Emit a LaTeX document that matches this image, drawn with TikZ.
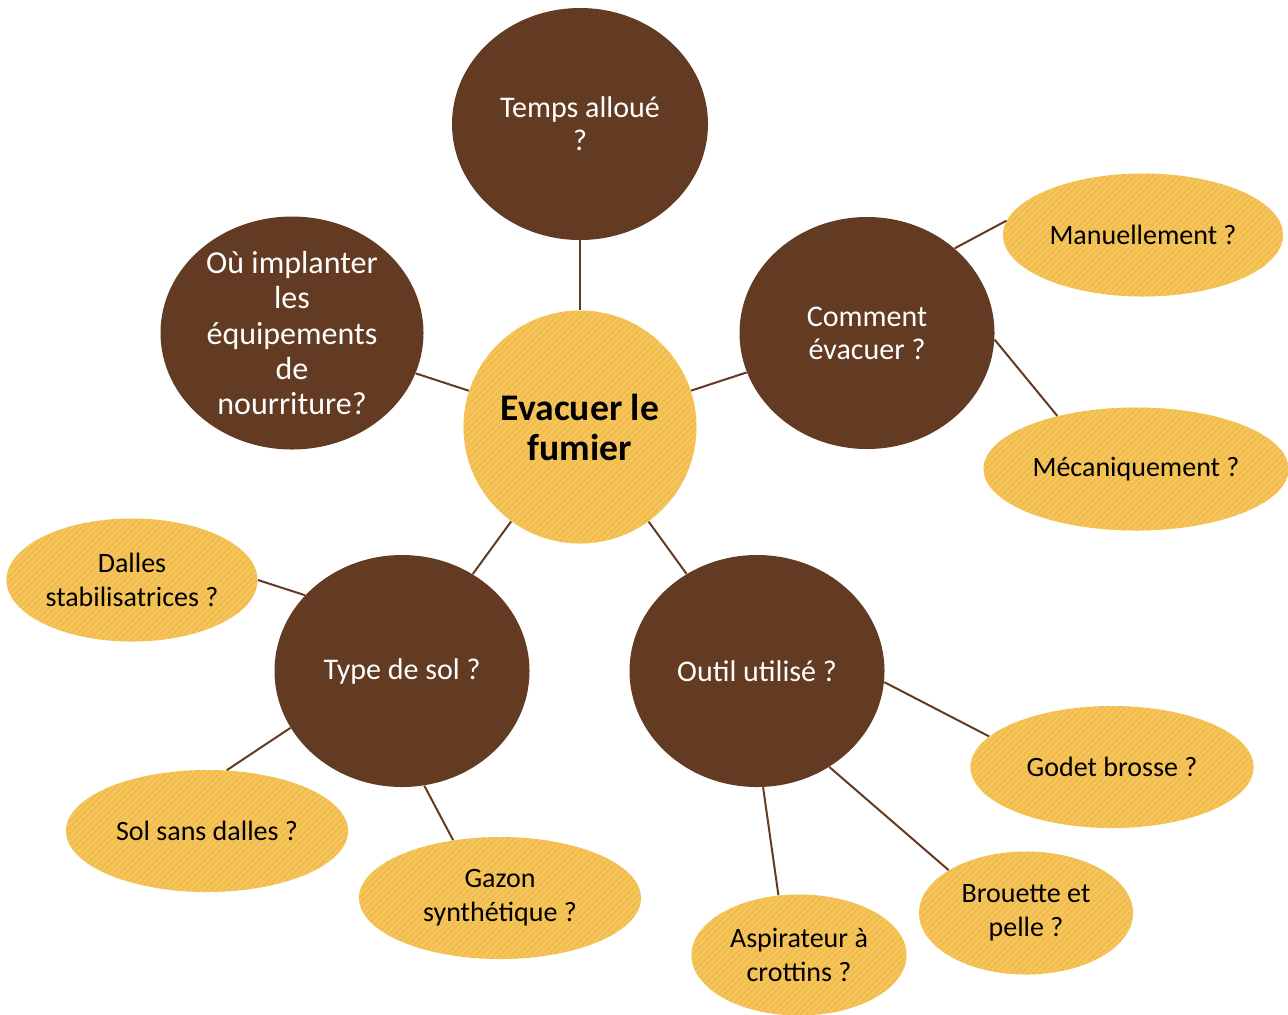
\documentclass[tikz,border=0pt]{standalone}
\usepackage{fontspec}
\setmainfont{Carlito}
\usetikzlibrary{shapes.geometric,patterns}
\definecolor{brn}{HTML}{633B23}
\definecolor{yel}{HTML}{F2BD4A}
\definecolor{yell}{HTML}{F6CD72}
\tikzset{
  qbox/.style={ellipse, fill=brn, text=white, inner sep=0pt, align=center,
    font=\fontsize{15}{16.5}\selectfont},
  ybox/.style={ellipse, preaction={fill=yel}, pattern=north east lines, pattern color=yell,
    text=black, inner sep=0pt, align=center, font=\fontsize{14}{17}\selectfont},
  link/.style={draw=brn, line width=1pt}
}
\begin{document}
\begin{tikzpicture}[x=0.5pt,y=-0.5pt]
\useasboundingbox (0,0) rectangle (1288,1014);
\node[ybox, minimum width=116.5pt, minimum height=116.5pt,
  font=\fontsize{18.8}{20}\selectfont\bfseries] (c) at (580,427) {Evacuer le\\fumier};
\node[qbox, minimum width=128pt, minimum height=116pt] (temps) at (580,124) {Temps alloué\\?};
\node[qbox, minimum width=131.5pt, minimum height=116.5pt, font=\fontsize{16}{17.6}\selectfont] (ou) at (292,333) {Où implanter\\les\\équipements\\de\\nourriture?};
\node[qbox, minimum width=127.5pt, minimum height=116pt] (com) at (867,333) {Comment\\évacuer ?};
\node[qbox, minimum width=127.5pt, minimum height=116pt] (type) at (402,671) {Type de sol ?};
\node[qbox, minimum width=127.5pt, minimum height=116pt] (outil) at (757,671) {Outil utilisé ?};
\node[ybox, minimum width=140pt, minimum height=61.5pt] (man) at (1143,235) {Manuellement ?};
\node[ybox, minimum width=152.5pt, minimum height=61.5pt] (mec) at (1136,469) {Mécaniquement ?};
\node[ybox, minimum width=125.5pt, minimum height=61.5pt] (dal) at (132,580) {Dalles\\stabilisatrices ?};
\node[ybox, minimum width=141pt, minimum height=61pt] (sol) at (207,831) {Sol sans dalles ?};
\node[ybox, minimum width=141pt, minimum height=61pt] (gaz) at (500,898) {Gazon\\synthétique ?};
\node[ybox, minimum width=107.5pt, minimum height=60.5pt] (asp) at (799,955) {Aspirateur à\\crottins ?};
\node[ybox, minimum width=107pt, minimum height=61.5pt] (bro) at (1026,913) {Brouette et\\pelle ?};
\node[ybox, minimum width=141.5pt, minimum height=61pt] (god) at (1112,767) {Godet brosse ?};
\draw[link] (temps) -- (c);
\draw[link] (ou) -- (c);
\draw[link] (com) -- (c);
\draw[link] (type) -- (c);
\draw[link] (outil) -- (c);
\draw[link] (com.44) -- (man.174);
\draw[link] (com.-3) -- (mec.146);
\draw[link] (type.142) -- (dal.east);
\draw[link] (type.-153) -- (sol.72);
\draw[link] (type.-79) -- (gaz.129);
\draw[link] (outil.-5) -- (god.166);
\draw[link] (outil.-53) -- (bro.151);
\draw[link] (outil.-87) -- (asp.109);
\end{tikzpicture}
\end{document}
